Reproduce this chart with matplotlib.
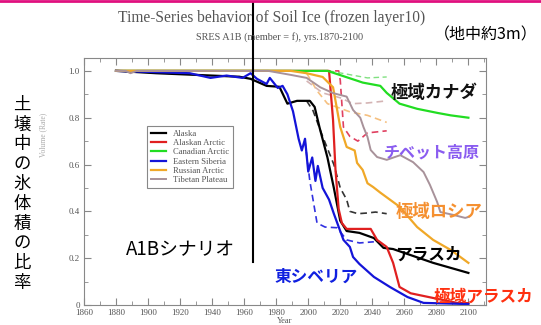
import matplotlib
matplotlib.use("Agg")
import matplotlib.pyplot as plt
from matplotlib.lines import Line2D
from matplotlib.ticker import MultipleLocator

# --- data ---
regions = ["Alaska", "Alaskan Arctic", "Canadian Arctic", "Eastern Siberia", "Russian Arctic", "Tibetan Plateau"]

alaska_yr = [1880, 1905, 1957, 1964, 1974, 1982, 1987, 1993, 2001, 2004, 2007, 2012, 2016, 2020, 2024, 2032, 2041, 2047, 2053, 2078, 2100]
alaska_v = [1.0, 0.99, 0.975, 0.966, 0.936, 0.932, 0.86, 0.872, 0.872, 0.846, 0.76, 0.63, 0.50, 0.36, 0.316, 0.308, 0.286, 0.244, 0.239, 0.18, 0.137]
alaska_d_yr = [1999, 2003, 2009, 2016, 2020, 2024, 2026, 2031, 2037, 2042, 2049]
alaska_d_v = [0.872, 0.83, 0.72, 0.60, 0.50, 0.45, 0.40, 0.39, 0.393, 0.397, 0.39]

akarctic_yr = [1880, 2013, 2015.5, 2017, 2019, 2021, 2024, 2032, 2039, 2043, 2049, 2053, 2057, 2064, 2078, 2093, 2100]
akarctic_v = [1.0, 1.0, 0.79, 0.58, 0.41, 0.35, 0.325, 0.325, 0.325, 0.278, 0.248, 0.18, 0.077, 0.05, 0.03, 0.009, 0.008]
akarctic_d_yr = [2010, 2019, 2020, 2022, 2026, 2031, 2037, 2049]
akarctic_d_v = [1.0, 1.0, 0.96, 0.76, 0.72, 0.70, 0.735, 0.744]

canada_yr = [1880, 2012, 2031, 2034, 2045, 2049, 2057, 2068, 2081, 2089, 2100]
canada_v = [1.0, 1.0, 0.957, 0.95, 0.936, 0.906, 0.86, 0.838, 0.82, 0.81, 0.80]
canada_d_yr = [2013, 2025, 2037, 2049]
canada_d_v = [1.0, 0.985, 0.97, 0.974]

esib_yr = [1880, 1926, 1939, 1949, 1959, 1964, 1968, 1974, 1976, 1981, 1984, 1987, 1990.5, 1994, 1996, 1998,
           2000, 2002.5, 2004.5, 2006, 2009, 2013, 2016, 2022, 2026, 2028, 2032, 2041, 2051, 2062, 2072, 2100]
esib_v = [1.0, 0.99, 0.97, 0.98, 0.97, 0.99, 0.966, 0.944, 0.97, 0.927, 0.936, 0.90, 0.827, 0.71, 0.66, 0.71,
          0.57, 0.63, 0.53, 0.594, 0.50, 0.45, 0.39, 0.278, 0.248, 0.205, 0.175, 0.12, 0.077, 0.034, 0.009, 0.004]
esib_d_yr = [1998, 2001, 2005.5, 2010.5, 2018, 2024, 2032, 2041]
esib_d_v = [0.70, 0.53, 0.35, 0.333, 0.33, 0.278, 0.265, 0.27]

russia_yr = [1880, 1989, 1999, 2009, 2015.5, 2020, 2024, 2029, 2030.5, 2034, 2037, 2040.5, 2045, 2051, 2057, 2068, 2078, 2089, 2100]
russia_v = [1.0, 1.0, 0.99, 0.974, 0.93, 0.76, 0.675, 0.66, 0.607, 0.577, 0.52, 0.504, 0.48, 0.45, 0.42, 0.333, 0.278, 0.235, 0.18]
russia_d_yr = [1999, 2005.5, 2012, 2020, 2026, 2037, 2045, 2049]
russia_d_v = [0.99, 0.915, 0.86, 0.84, 0.825, 0.81, 0.79, 0.78]

tibet_yr = [1880, 1886, 1889, 1893, 1975, 1989, 1999, 2007.5, 2015.5, 2024, 2028, 2032.5, 2034.5, 2037, 2039, 2043,
            2049, 2057.5, 2065.5, 2072, 2076, 2080.5, 2082.5, 2090.5, 2098, 2100]
tibet_v = [1.0, 1.0, 0.99, 1.0, 1.0, 0.983, 0.97, 0.93, 0.905, 0.89, 0.833, 0.80, 0.76, 0.718, 0.662, 0.632,
           0.62, 0.64, 0.61, 0.568, 0.513, 0.44, 0.397, 0.385, 0.372, 0.376]
tibet_d_yr = [1999, 2009, 2020, 2028, 2037, 2049]
tibet_d_v = [0.957, 0.906, 0.885, 0.86, 0.863, 0.872]

W, H = 541, 325


def fx(x):
    return x / W


def fy(y):
    return 1 - y / H


fig = plt.figure(figsize=(5.41, 3.25), dpi=100)
ax = fig.add_axes([fx(84), fy(305), fx(486) - fx(84), fy(58) - fy(305)])

serif = "Liberation Serif"
gray = "#555555"

# dashed runs
ax.plot(alaska_d_yr, alaska_d_v, color="#333333", lw=1.2, ls=(0, (4, 2.5)))
ax.plot(akarctic_d_yr, akarctic_d_v, color="#e04060", lw=1.2, ls=(0, (4, 2.5)))
ax.plot(canada_d_yr, canada_d_v, color="#80e080", lw=1.0, ls=(0, (4, 2.5)))
ax.plot(esib_d_yr, esib_d_v, color="#3030e0", lw=1.2, ls=(0, (4, 2.5)))
ax.plot(russia_d_yr, russia_d_v, color="#f5c080", lw=1.2, ls=(0, (4, 2.5)))
ax.plot(tibet_d_yr, tibet_d_v, color="#d4b4b4", lw=1.2, ls=(0, (4, 2.5)))

# solid runs
ax.plot(alaska_yr, alaska_v, color="black", lw=1.6, label=regions[0])
ax.plot(akarctic_yr, akarctic_v, color="#e02020", lw=1.6, label=regions[1])
ax.plot(canada_yr, canada_v, color="#22dd22", lw=1.6, label=regions[2])
ax.plot(esib_yr, esib_v, color="#1414d8", lw=1.6, label=regions[3])
ax.plot(russia_yr, russia_v, color="#f0a828", lw=1.6, label=regions[4])
ax.plot(tibet_yr, tibet_v, color="#a8929a", lw=1.4, label=regions[5])

ax.set_xlim(1860, 2111)
ax.set_ylim(0, 1.055)
ax.xaxis.set_major_locator(MultipleLocator(20))
ax.xaxis.set_minor_locator(MultipleLocator(10))
ax.yaxis.set_major_locator(MultipleLocator(0.2))
ax.yaxis.set_minor_locator(MultipleLocator(0.1))
ax.set_yticks([0, 0.2, 0.4, 0.6, 0.8, 1.0], ["0", "0.2", "0.4", "0.6", "0.8", "1.0"])
ax.tick_params(which="both", direction="in", top=True, right=True, colors="#888888",
               labelcolor=gray, labelsize=6.5, pad=3)
ax.tick_params(which="major", length=5)
ax.tick_params(which="minor", length=3)
for lab in ax.get_xticklabels() + ax.get_yticklabels():
    lab.set_fontfamily(serif)
for s in ax.spines.values():
    s.set_color("#888888")
ax.set_xlabel("Year", fontfamily=serif, fontsize=6, color=gray, labelpad=0)

leg = ax.legend(loc="upper left", bbox_to_anchor=(0.147, 0.741), prop={"family": serif, "size": 6.2},
                handlelength=1.8, labelspacing=0.15, borderpad=0.4, fancybox=False,
                edgecolor="#888888", framealpha=1)
for t in leg.get_texts():
    t.set_color(gray)
leg.get_frame().set_linewidth(0.8)

# titles
fig.text(fx(272), fy(18), "Time-Series behavior of Soil Ice (frozen layer10)", family=serif,
         fontsize=11.2, color=gray, ha="center", va="center")
fig.text(fx(280), fy(37), "SRES A1B (member = f), yrs.1870-2100", family=serif,
         fontsize=7.4, color=gray, ha="center", va="center")
fig.text(fx(43), fy(135), "Volume (Rate)", family=serif, fontsize=5.5, color="#aaaaaa",
         rotation=90, ha="center", va="center")

jp = ["Noto Sans CJK JP", "DejaVu Sans"]
fig.text(fx(486), fy(35), "（地中約3m）", family=jp, fontsize=11.5, color="black", ha="center", va="center")
fig.text(fx(22), fy(194), "\n".join("土壌中の氷体積の比率"), family=jp, fontsize=12.5, color="black",
         ha="center", va="center", linespacing=1.13)
fig.text(fx(180), fy(250), "A1Bシナリオ", family=jp, fontsize=13.5, color="black", ha="center", va="center")

labels = [
    ("極域カナダ", 434, 93, 12.5, "#111111"),
    ("チベット高原", 432, 153, 11.5, "#8a5cf0"),
    ("極域ロシア", 439, 212, 12.5, "#f59030"),
    ("アラスカ", 428, 255, 12, "black"),
    ("東シベリア", 316, 277, 12, "#1020e0"),
    ("極域アラスカ", 483, 297, 12, "#ff3010"),
]
for txt, x, y, fs, c in labels:
    fig.text(fx(x), fy(y), txt, family=jp, fontsize=fs, fontweight="bold", color=c,
             ha="center", va="center")

# scenario divider and slide header line
fig.add_artist(Line2D([fx(253), fx(253)], [fy(3), fy(262)], color="black", lw=1.5))
fig.add_artist(Line2D([0, 1], [fy(1), fy(1)], color="#e0107f", lw=2))

fig.savefig("out.png", dpi=100)
